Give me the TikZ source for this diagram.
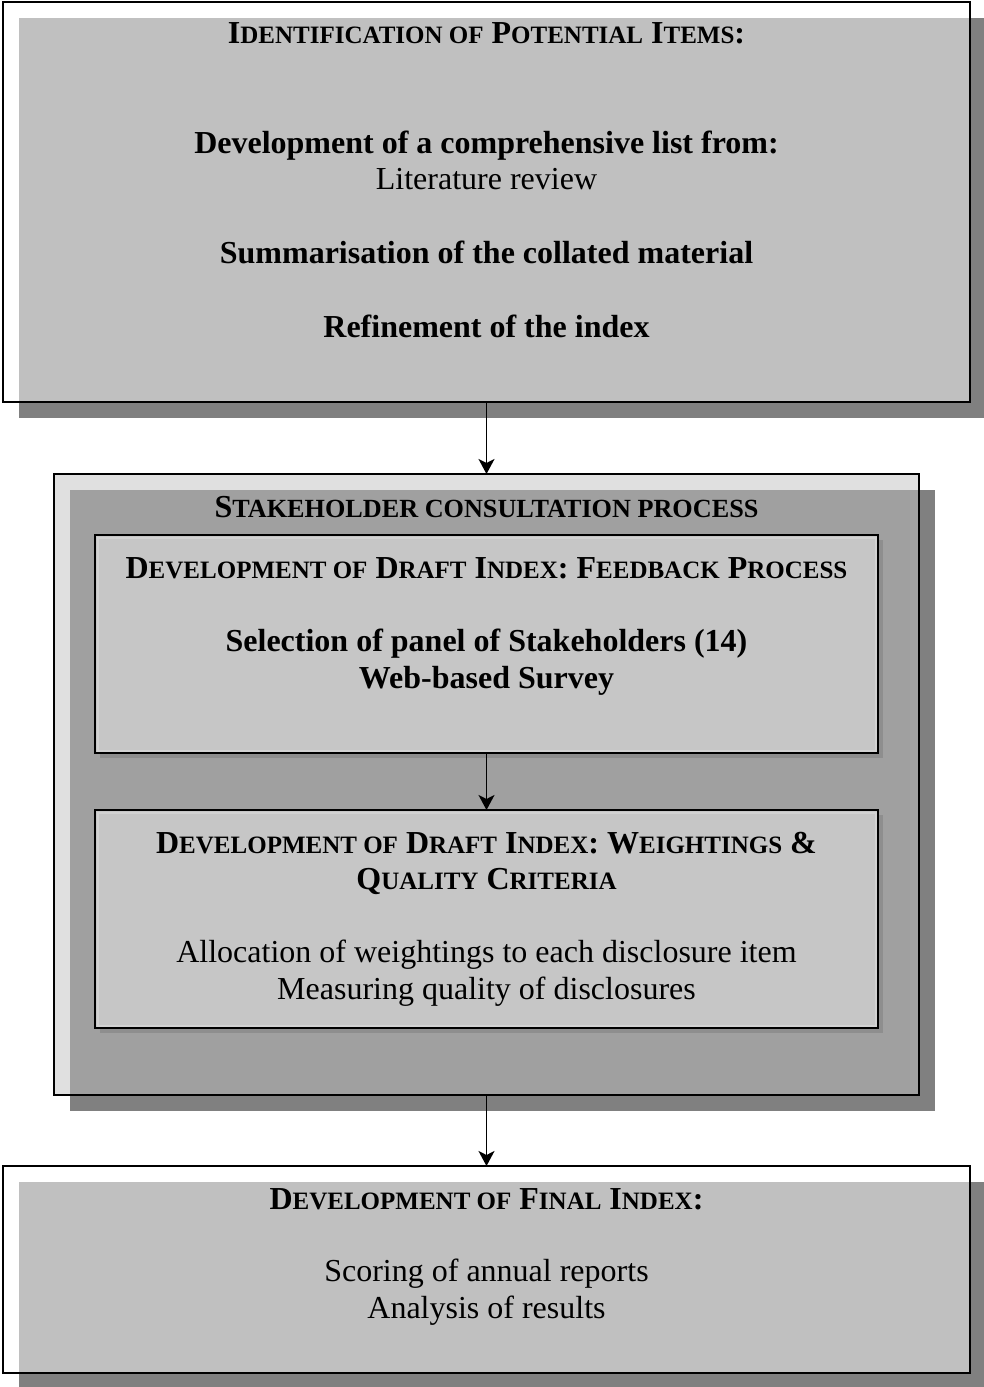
\documentclass[tikz,border=0pt]{standalone}
\usepackage{fontspec}
\setmainfont{Liberation Serif}
\usetikzlibrary{arrows.meta,backgrounds}

\definecolor{shadowdark}{HTML}{808080}
\definecolor{shadowlight}{HTML}{C0C0C0}
\definecolor{panelpale}{HTML}{E0E0E0}
\definecolor{panelmid}{HTML}{A0A0A0}
\definecolor{innerfill}{HTML}{C6C6C6}
\definecolor{innershade}{HTML}{8E8E8E}
\definecolor{innerrim}{HTML}{D2D2D2}

% type sizes (1pt = 1 unit of the drawing)
\newcommand\capsize{\fontsize{32}{37}\selectfont}
\newcommand\scsize{\fontsize{25}{30}\selectfont}
% small capitals built from a full-size capital and reduced capitals
\newcommand\lsc[1]{{\scsize #1}}
\newcommand\lscwide[1]{{\fontsize{26.2}{30}\selectfont #1}}

\tikzset{
  frame/.style={draw=black, line width=2pt, rectangle, inner sep=0pt, outer sep=0pt},
  innerbox/.style={frame, fill=innerfill},
  txt/.style={anchor=base, font=\capsize, inner sep=0pt},
  btxt/.style={txt, font=\capsize\bfseries},
  flow/.style={-{Stealth[length=15pt,width=16pt,inset=4pt]}, line width=1.5pt},
  rim/.style={draw=innerrim, line width=2pt}
}

\begin{document}
\begin{tikzpicture}[x=1pt,y=-1pt]
\useasboundingbox (0,0) rectangle (984,1387);

% ---- boxes ----
\node[frame, minimum width=967, minimum height=400] (top) at (486.5,202) {};
\node[frame, minimum width=865, minimum height=621] (stake) at (486.5,784.5) {};
\node[innerbox, minimum width=783, minimum height=218] (fb) at (486.5,644) {};
\node[innerbox, minimum width=783, minimum height=218] (wq) at (486.5,919) {};
\node[frame, minimum width=967, minimum height=207] (final) at (486.5,1269.5) {};

\draw[rim] ([shift={(2.5,2.5)}]fb.north west) rectangle ([shift={(-2.5,-2.5)}]fb.south east);
\draw[rim] ([shift={(2.5,2.5)}]wq.north west) rectangle ([shift={(-2.5,-2.5)}]wq.south east);

% ---- shaded backgrounds and drop shadows ----
\begin{pgfonlayer}{background}
  \foreach \b in {top,final}{
    \fill[shadowdark] ([shift={(16,16)}]\b.north west) rectangle ([shift={(16,16)}]\b.south east);
    \fill[white] (\b.north west) rectangle (\b.south east);
    \fill[shadowlight] ([shift={(16,16)}]\b.north west) rectangle (\b.south east);
  }
  \fill[shadowdark] ([shift={(16,16)}]stake.north west) rectangle ([shift={(16,16)}]stake.south east);
  \fill[panelpale] (stake.north west) rectangle (stake.south east);
  \fill[panelmid] ([shift={(16,16)}]stake.north west) rectangle (stake.south east);
  \foreach \b in {fb,wq}{
    \fill[innershade] ([shift={(5,5)}]\b.north west) rectangle ([shift={(5,5)}]\b.south east);
  }
\end{pgfonlayer}

% ---- texts ----
\node[btxt] (h1) at (486.5,43) {I\lsc{DENTIFICATION OF} P\lsc{OTENTIAL} I\lsc{TEMS}:};
\node[btxt] (t1) at (486.5,153) {Development of a comprehensive list from:};
\node[txt]  (t2) at (486.5,189) {Literature review};
\node[btxt] (t3) at (486.5,263) {Summarisation of the collated material};
\node[btxt] (t4) at (486.5,337) {Refinement of the index};

\node[btxt] (h2) at (486.5,517) {S\lscwide{TAKEHOLDER CONSULTATION PROCESS}};

\node[btxt] (h3) at (486.5,578) {D\lsc{EVELOPMENT OF} D\lsc{RAFT} I\lsc{NDEX}: F\lsc{EEDBACK} P\lsc{ROCESS}};
\node[btxt] (t5) at (486.5,651) {Selection of panel of Stakeholders (14)};
\node[btxt] (t6) at (486.5,688) {Web-based Survey};

\node[btxt] (h4a) at (486.5,853) {D\lsc{EVELOPMENT OF} D\lsc{RAFT} I\lsc{NDEX}: W\lsc{EIGHTINGS} \&};
\node[btxt] (h4b) at (486.5,889) {Q\lsc{UALITY} C\lsc{RITERIA}};
\node[txt]  (t7) at (486.5,962) {Allocation of weightings to each disclosure item};
\node[txt]  (t8) at (486.5,999) {Measuring quality of disclosures};

\node[btxt] (h5) at (486.5,1209) {D\lsc{EVELOPMENT OF} F\lsc{INAL} I\lsc{NDEX}:};
\node[txt]  (t9) at (486.5,1281) {Scoring of annual reports};
\node[txt]  (t10) at (486.5,1318) {Analysis of results};

% ---- connectors ----
\draw[flow] (top.south) -- (stake.north);
\draw[flow] (fb.south) -- (wq.north);
\draw[flow] (stake.south) -- (final.north);
\end{tikzpicture}
\end{document}
